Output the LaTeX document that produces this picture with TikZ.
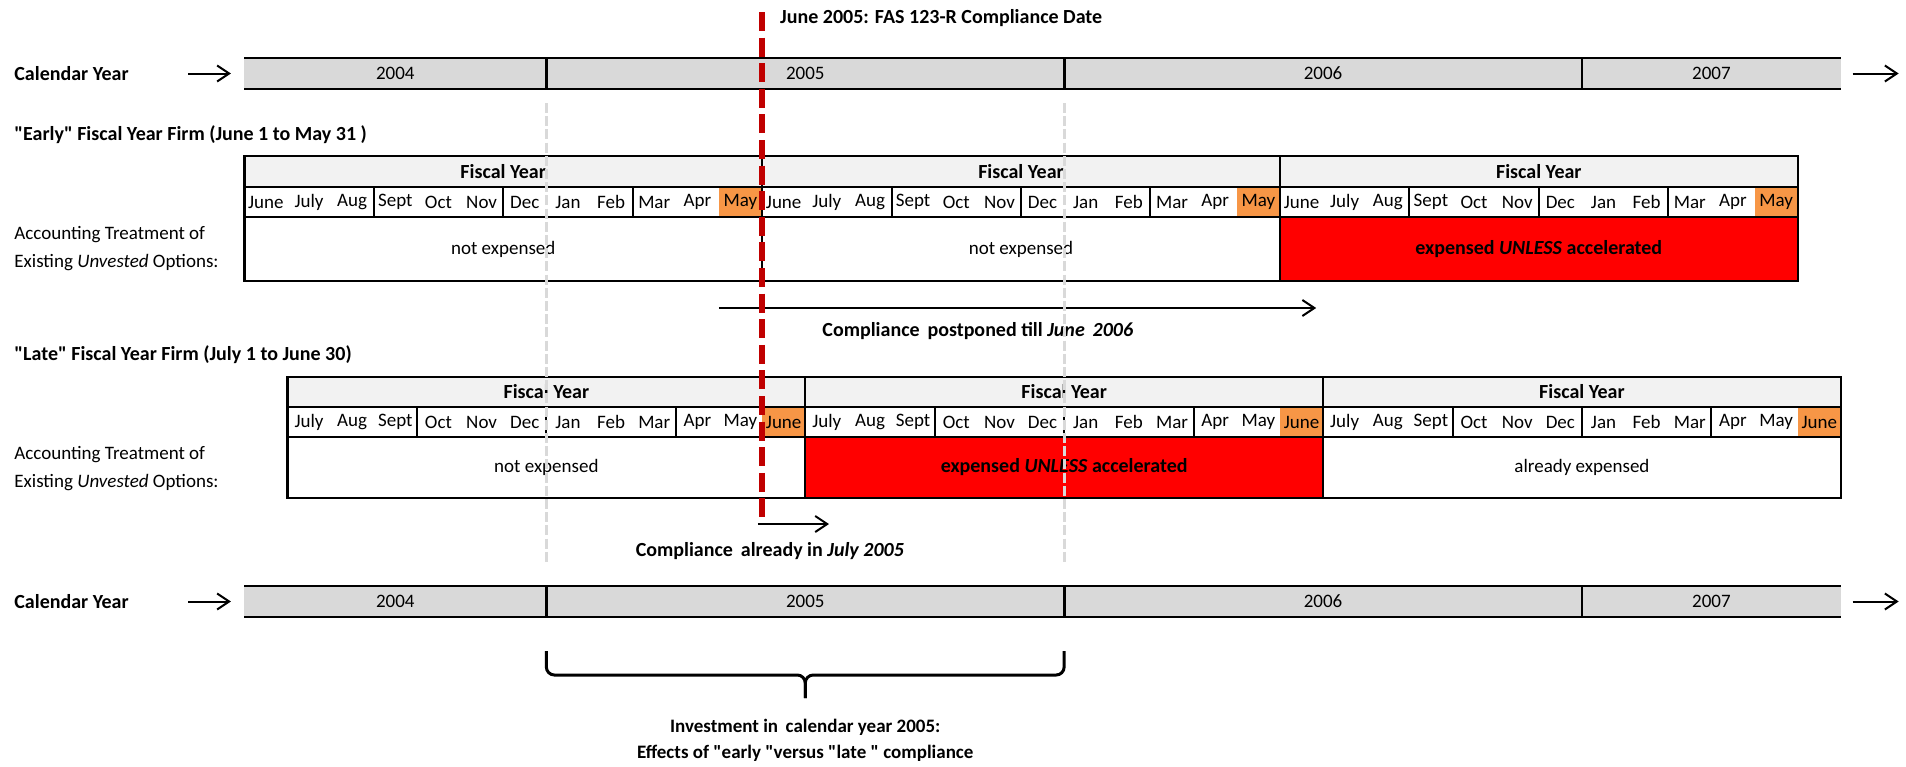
\documentclass[tikz,border=0pt]{standalone}
\usepackage{fontspec}
\setmainfont{Carlito}
\usetikzlibrary{arrows.meta}

\definecolor{calgray}{HTML}{D9D9D9}
\definecolor{headgray}{HTML}{F2F2F2}
\definecolor{lastmonth}{HTML}{F79646}
\definecolor{expred}{HTML}{FF0000}
\definecolor{duered}{HTML}{C00000}

\tikzset{
  tline/.style={line width=1.2pt},
  qline/.style={line width=1pt},
  calline/.style={line width=1.4pt},
  lbl/.style={anchor=west, inner sep=0pt, align=left},
  guide/.style={calgray, line width=1.5pt, dash pattern=on 5pt off 1.6pt},
  duedate/.style={duered, line width=2.8pt, dash pattern=on 9.5pt off 3.3pt}
}

\begin{document}
\begin{tikzpicture}[x=21.575pt, y=-0.5pt, >={Straight Barb[length=6pt,width=8pt]},
    font=\fontsize{9.5}{14}\selectfont]
    \useasboundingbox (-5.662,0) rectangle (38.51,767);

    \foreach \y/\row in {58/top,586/bot} {
        \fill[calgray] (0,\y) rectangle (37,\y+31);
        \draw[calline] (0,\y) -- (37,\y) (0,\y+31) -- (37,\y+31);
        \foreach \x in {7,19,31}
            \draw[calline] (\x,\y) -- (\x,\y+31);
        \foreach \x/\yr in {3.5/2004,13/2005,25/2006,34/2007}
            \node (\row\yr) at (\x,\y+15.5) {\yr};
        \node[lbl, font=\bfseries] (\row cal) at (-5.337,\y+15.5) {Calendar Year};
        \coordinate (\row inA) at (-1.3,\y+15.5);
        \coordinate (\row inB) at (-0.31,\y+15.5);
        \coordinate (\row outA) at (37.27,\y+15.5);
        \coordinate (\row outB) at (38.34,\y+15.5);
        \draw[->, line width=1pt] (\row inA) -- (\row inB);
        \draw[->, line width=1pt] (\row outA) -- (\row outB);
    }

    \node[lbl, font=\bfseries] (early) at (-5.337,135)
        {\textquotedbl Early\textquotedbl\ Fiscal Year Firm (June 1 to May 31 )};
    \foreach \f in {0,1,2} {
        \fill[headgray] (12*\f,156) rectangle (12*\f+12,187);
        \fill[lastmonth] (12*\f+11,187) rectangle (12*\f+12,217);
        \node[font=\bfseries] (efy\f) at (12*\f+6,171.5) {Fiscal Year};
        \foreach \m/\mon in {0/June,1/July,2/Aug,3/Sept,4/Oct,5/Nov,6/Dec,7/Jan,8/Feb,9/Mar,10/Apr,11/May}
            \node[inner sep=0pt] (em-\f-\m) at (12*\f+\m+0.5,202) {\mon};
        \foreach \q in {3,6,9}
            \draw[qline] (12*\f+\q,187) -- (12*\f+\q,217);
    }
    \fill[expred] (24,217) rectangle (36,281);
    \foreach \f in {0,1,2}
        \draw[tline] (12*\f,156) rectangle (12*\f+12,187) (12*\f,187) rectangle (12*\f+12,217)
            (12*\f,217) rectangle (12*\f+12,281);
    \node (etr0) at (6,249) {not expensed};
    \node (etr1) at (18,249) {not expensed};
    \node[font=\bfseries] (etr2) at (30,249) {expensed \textit{UNLESS} accelerated};
    \node[lbl] (eacc) at (-5.337,249) {Accounting Treatment of\\Existing \textit{Unvested} Options:};

    \node[lbl, font=\bfseries] (late) at (-5.337,355)
        {\textquotedbl Late\textquotedbl\ Fiscal Year Firm (July 1 to June 30)};
    \foreach \f in {0,1,2} {
        \fill[headgray] (12*\f+1,377) rectangle (12*\f+13,407);
        \fill[lastmonth] (12*\f+12,407) rectangle (12*\f+13,437);
        \node[font=\bfseries] (lfy\f) at (12*\f+7,392) {Fiscal Year};
        \foreach \m/\mon in {0/July,1/Aug,2/Sept,3/Oct,4/Nov,5/Dec,6/Jan,7/Feb,8/Mar,9/Apr,10/May,11/June}
            \node[inner sep=0pt] (lm-\f-\m) at (12*\f+\m+1.5,422) {\mon};
        \foreach \q in {3,6,9}
            \draw[qline] (12*\f+\q+1,407) -- (12*\f+\q+1,437);
    }
    \fill[expred] (13,437) rectangle (25,498);
    \foreach \f in {0,1,2}
        \draw[tline] (12*\f+1,377) rectangle (12*\f+13,407) (12*\f+1,407) rectangle (12*\f+13,437)
            (12*\f+1,437) rectangle (12*\f+13,498);
    \node (ltr0) at (7,467.5) {not expensed};
    \node[font=\bfseries] (ltr1) at (19,467.5) {expensed \textit{UNLESS} accelerated};
    \node (ltr2) at (31,467.5) {already expensed};
    \node[lbl] (lacc) at (-5.337,469) {Accounting Treatment of\\Existing \textit{Unvested} Options:};

    \coordinate (postA) at (11,308);
    \coordinate (postB) at (24.84,308);
    \draw[->, line width=1pt] (postA) -- (postB);
    \node[font=\bfseries] (post) at (17,331) {Compliance\, postponed till \textit{June\, 2006}};

    \coordinate (alrA) at (11.9,524);
    \coordinate (alrB) at (13.55,524);
    \draw[->, line width=1pt] (alrA) -- (alrB);
    \node[font=\bfseries] (alr) at (12.18,551) {Compliance\, already in \textit{July 2005}};

    \foreach \x in {7,19}
        \draw[guide] (\x,103) -- (\x,562);
    \coordinate (dueA) at (12,12);
    \coordinate (dueB) at (12,523);
    \draw[duedate] (dueA) -- (dueB);
    \node[lbl, font=\bfseries] (due) at (12.41,18) {June 2005: FAS 123-R Compliance Date};

    \coordinate (braceL) at (7,651);
    \coordinate (braceR) at (19,651);
    \coordinate (braceTip) at (13,698);
    \draw[line width=1.5pt, rounded corners=4pt] (braceL) -- (7,675) -- (13,675) -- (braceTip);
    \draw[line width=1.5pt, rounded corners=4pt] (braceR) -- (19,675) -- (13,675) -- (braceTip);
    \node[font=\fontsize{9.5}{13}\selectfont\bfseries, align=center] (invest) at (13,740)
        {Investment in\, calendar year 2005:\\Effects of \textquotedbl early \textquotedbl versus
        \textquotedbl late \textquotedbl\ compliance};
\end{tikzpicture}
\end{document}
